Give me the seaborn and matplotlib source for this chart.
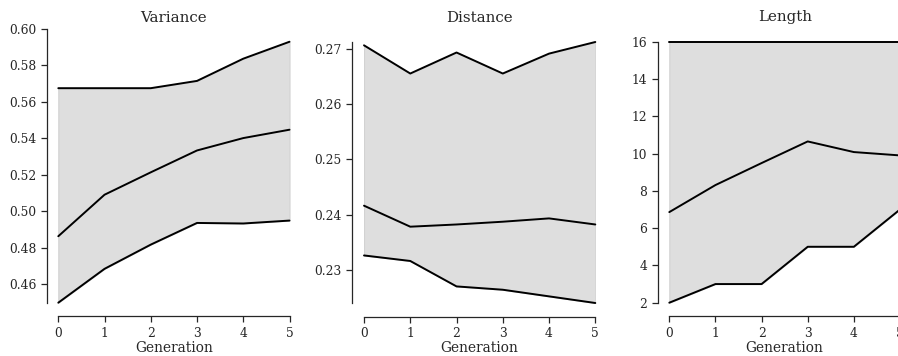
import matplotlib
matplotlib.use("Agg")
import matplotlib.pyplot as plt
import seaborn as sns
import pandas as pd
import numpy as np

generations = [0, 1, 2, 3, 4, 5]
titles = ["Variance", "Distance", "Length"]

variance_upper = [0.5675, 0.5675, 0.5675, 0.5715, 0.5837, 0.5930]
variance_mid = [0.4862, 0.5090, 0.5213, 0.5333, 0.5401, 0.5447]
variance_lower = [0.4497, 0.4683, 0.4816, 0.4935, 0.4932, 0.4948]

distance_upper = [0.2706, 0.2655, 0.2693, 0.2655, 0.2691, 0.2712]
distance_mid = [0.2416, 0.2378, 0.2382, 0.2387, 0.2393, 0.2382]
distance_lower = [0.2326, 0.2316, 0.2270, 0.2264, 0.2252, 0.2240]

length_upper = [16, 16, 16, 16, 16, 16]
length_mid = [6.86, 8.31, 9.49, 10.65, 10.08, 9.90]
length_lower = [2, 3, 3, 5, 5, 7]

variance_ticks = [0.46, 0.48, 0.50, 0.52, 0.54, 0.56, 0.58, 0.60]
distance_ticks = [0.23, 0.24, 0.25, 0.26, 0.27]
length_ticks = [2, 4, 6, 8, 10, 12, 14, 16]

sns.set_style("ticks")
plt.rcParams["font.family"] = ["DejaVu Serif"]

W, H = 898, 356
fig = plt.figure(figsize=(W / 100, H / 100), dpi=100)

# pixel boxes: left, right, top, bottom
boxes = [(58.3, 289.5, 29.0, 302.7), (364.0, 595.3, 42.0, 303.0), (669.3, 900.0, 41.7, 302.7)]
series = [
    (variance_lower, variance_mid, variance_upper, variance_ticks, (min(variance_lower), 0.60)),
    (distance_lower, distance_mid, distance_upper, distance_ticks, (min(distance_lower), max(distance_upper))),
    (length_lower, length_mid, length_upper, length_ticks, (min(length_lower), max(length_upper))),
]

for (l, r, t, b), title, (lo, mid, up, yt, ylim) in zip(boxes, titles, series):
    ax = fig.add_axes([l / W, 1 - b / H, (r - l) / W, (b - t) / H])
    df = pd.DataFrame({"Generation": generations, "lo": lo, "mid": mid, "up": up})
    ax.fill_between(df["Generation"], df["lo"], df["up"], facecolor="#dedede",
                    edgecolor="#d2d2d2", linewidth=0.8, zorder=1)
    for col in ["lo", "mid", "up"]:
        sns.lineplot(data=df, x="Generation", y=col, ax=ax, color="black",
                     linewidth=1.4, zorder=3, clip_on=False)
    ax.set_xlim(0, 5)
    ax.set_ylim(*ylim)
    ax.set_xticks(generations)
    ax.set_yticks(yt)
    if title in ("Variance", "Distance"):
        ax.set_yticklabels([f"{v:.2f}" for v in yt])
    ax.set_ylabel("")
    ax.set_xlabel("Generation", fontsize=9.9, color="#262626", labelpad=0.5)
    pad = (t - 21.5) * 0.72
    ax.set_title(title, fontsize=10.8, color="#262626", pad=pad)
    ax.tick_params(labelsize=8.8, length=4, width=0.9, colors="#262626")
    sns.despine(ax=ax)
    ax.spines["left"].set_position(("outward", 8.4))
    ax.spines["bottom"].set_position(("outward", 9.9))
    for s in ["left", "bottom"]:
        ax.spines[s].set_linewidth(0.9)
        ax.spines[s].set_color("#262626")

fig.savefig("out.png", dpi=100)
